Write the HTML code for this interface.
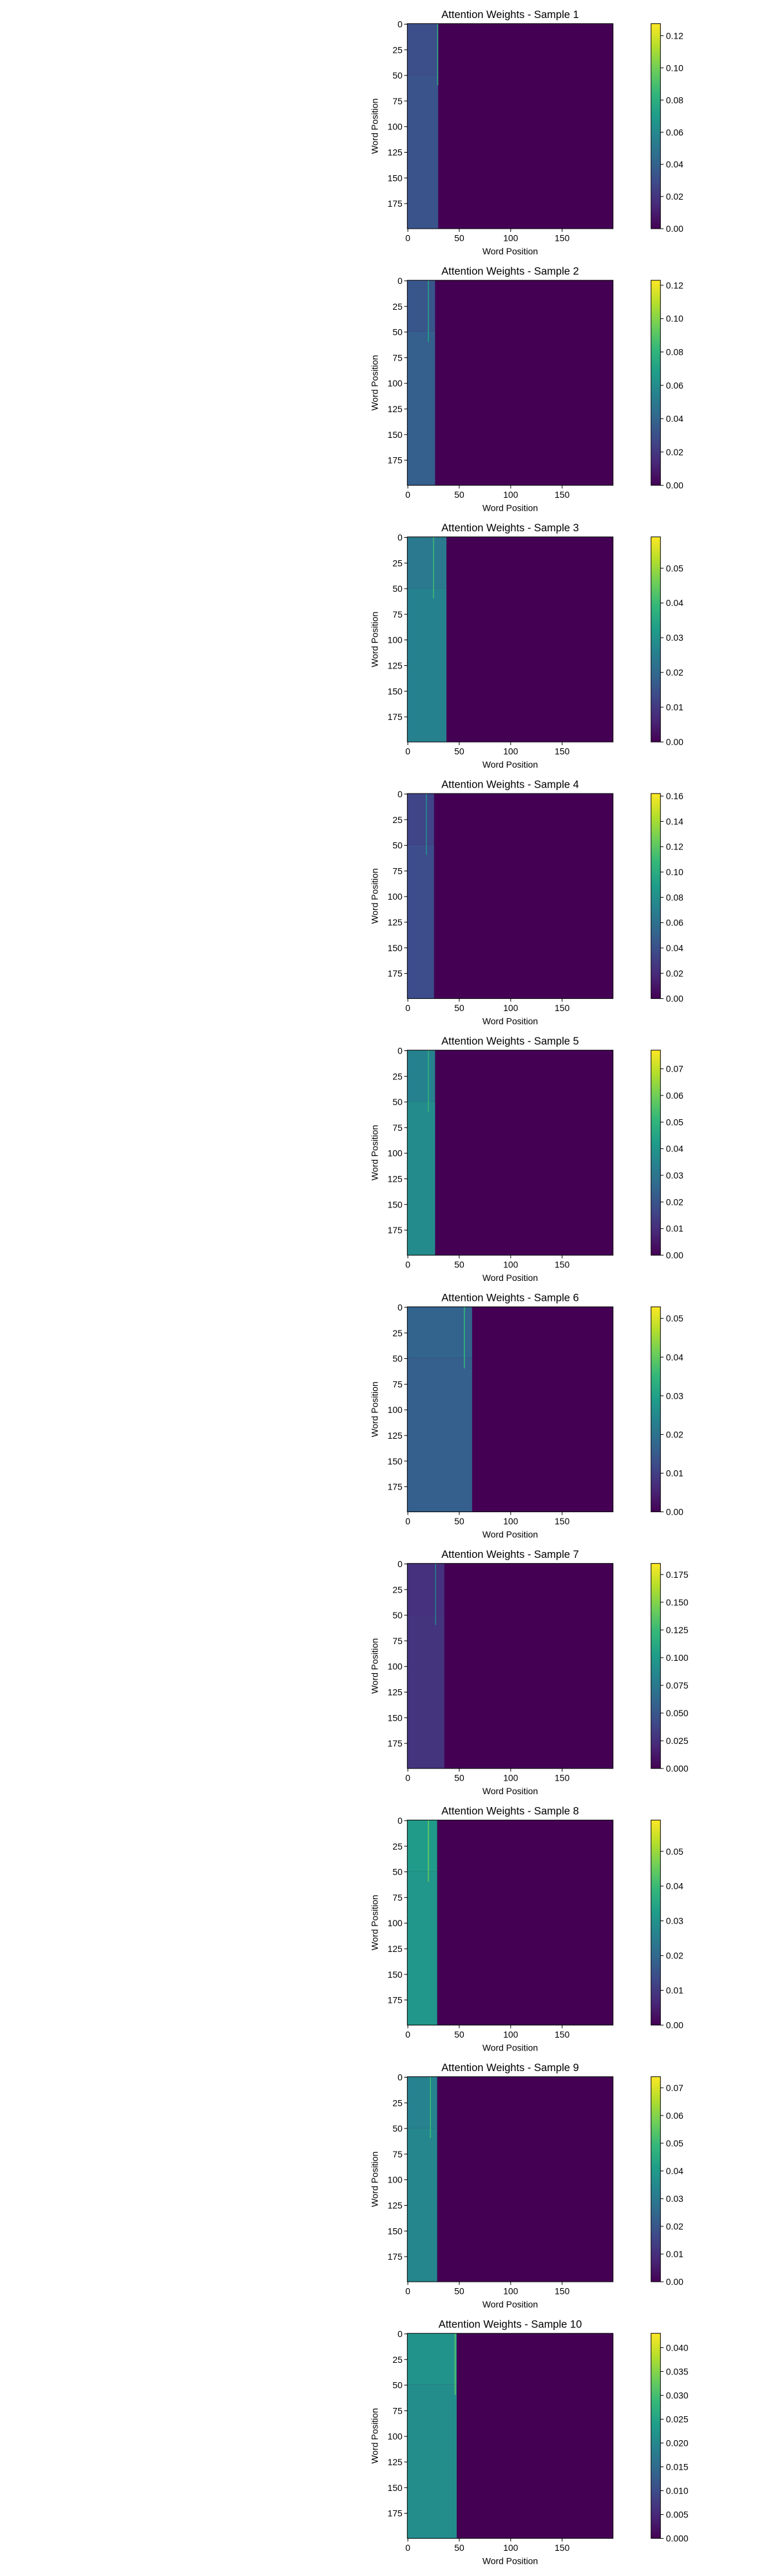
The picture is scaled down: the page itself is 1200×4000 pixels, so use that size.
<!DOCTYPE html>
<html><head><meta charset="utf-8">
<style>
html,body{margin:0;padding:0;background:#fff;}
svg{display:block;}
text{font-family:"Liberation Sans","DejaVu Sans",sans-serif;fill:#000;}
</style></head>
<body>
<svg id="fig" width="1200" height="4000" viewBox="0 0 1200 4000" xmlns="http://www.w3.org/2000/svg"></svg>
<script>
// ---- data ----
const sampleNames = ["Sample 1","Sample 2","Sample 3","Sample 4","Sample 5","Sample 6","Sample 7","Sample 8","Sample 9","Sample 10"];
const seqLens   = [30, 27, 38, 26, 27, 63, 36, 29, 29, 48];
const vmaxVals  = [0.1275, 0.123, 0.059, 0.162, 0.077, 0.053, 0.185, 0.059, 0.074, 0.043];
const baseVals  = [0.033, 0.037, 0.026, 0.038, 0.037, 0.016, 0.028, 0.031, 0.034, 0.021];
const topVals   = [0.031, 0.033, 0.024, 0.034, 0.034, 0.017, 0.026, 0.032, 0.033, 0.022];
const hotCols   = [29, 20, 25, 18, 20, 55, 27, 20, 22, 46];
const hotVals   = [0.080, 0.070, 0.040, 0.080, 0.050, 0.035, 0.080, 0.045, 0.050, 0.032];
const tickSteps = [0.02, 0.02, 0.01, 0.02, 0.01, 0.01, 0.025, 0.01, 0.01, 0.005];
const tickDecimals = [2,2,2,2,2,2,3,2,2,3];
const axisTicks = [0, 50, 100, 150];
const yAxisTicks = [0, 25, 50, 75, 100, 125, 150, 175];
const N = 200;

// ---- layout ----
const L = 632.3, W = 319.4, T0 = 36.7, H = 318.4, GAP = 398.5;
const CBX = 1010.7, CBW = 14.6;
const NS = "http://www.w3.org/2000/svg";
const svg = document.getElementById('fig');

const VIR = [[68,1,84],[72,40,120],[62,73,137],[49,104,142],[38,130,142],[31,158,137],[53,183,121],[110,206,88],[181,222,43],[253,231,37]];
function viridis(t){
  t=Math.max(0,Math.min(1,t));
  const p=t*(VIR.length-1), i=Math.min(VIR.length-2,Math.floor(p)), f=p-i;
  const c=VIR[i].map((v,k)=>Math.round(v+(VIR[i+1][k]-v)*f));
  return `rgb(${c[0]},${c[1]},${c[2]})`;
}
function mk(tag, attrs, parent){
  const e=document.createElementNS(NS,tag);
  for(const k in attrs) e.setAttribute(k,attrs[k]);
  (parent||svg).appendChild(e); return e;
}

sampleNames.forEach((name, s) => {
  const top = T0 + s*GAP;
  const g = mk('g', {});
  
  
  const xs = v => L + (v + 0.5) * W / N;
  const ys = v => top + (v + 0.5) * H / N;
  const xe = v => L + v * W / N;
  const ye = v => top + v * H / N;
  const col = v => viridis(v / vmaxVals[s]);

  const bg = mk('rect', {x:L, y:top, width:W, height:H, fill:viridis(0)}, g);
  
  
  const r1 = mk('rect', {x:xe(0), y:ye(0), width:xe(seqLens[s])-xe(0), height:ye(50)-ye(0), fill:col(topVals[s])}, g);
  
  
  const r2 = mk('rect', {x:xe(0), y:ye(50), width:xe(seqLens[s])-xe(0), height:ye(N)-ye(50), fill:col(baseVals[s])}, g);
  
  
  const hc = mk('rect', {x:xe(hotCols[s]), y:ye(0), width:xe(hotCols[s]+1)-xe(hotCols[s]), height:ye(60)-ye(0), fill:col(hotVals[s])}, g);
  
  
  const fr = mk('rect', {x:L, y:top, width:W, height:H, fill:'none', stroke:'#000', 'stroke-width':1}, g);
  
  

  const tt = mk('text', {x:L+W/2, y:top-8.5, 'text-anchor':'middle', 'font-size':16.5}, g);
  tt.textContent = 'Attention Weights - ' + name;
  
  

  axisTicks.forEach(v => {
    mk('line', {x1:xs(v), x2:xs(v), y1:top+H, y2:top+H+4.9, stroke:'#000', 'stroke-width':1}, g);
    const t = mk('text', {x:xs(v), y:top+H+19.5, 'text-anchor':'middle', 'font-size':13.9}, g);
    t.textContent = v;
    
    
  });
  yAxisTicks.forEach(v => {
    mk('line', {x1:L-4.9, x2:L, y1:ys(v), y2:ys(v), stroke:'#000', 'stroke-width':1}, g);
    const t = mk('text', {x:L-7.5, y:ys(v)+5, 'text-anchor':'end', 'font-size':13.9}, g);
    t.textContent = v;
    
    
  });
  const xl = mk('text', {x:L+W/2, y:top+H+40, 'text-anchor':'middle', 'font-size':13.9}, g);
  xl.textContent = 'Word Position';
  
  
  const cy = top+H/2;
  const yl = mk('text', {x:586.5, y:cy, 'text-anchor':'middle', 'font-size':13.9, transform:`rotate(-90 586.5 ${cy})`}, g);
  yl.textContent = 'Word Position';
  
  

  const gid = 'vir' + s;
  const defs = mk('defs', {}, g);
  const lg = mk('linearGradient', {id:gid, x1:0, y1:1, x2:0, y2:0}, defs);
  for(let i=0;i<VIR.length;i++) mk('stop', {offset:(i/(VIR.length-1)), 'stop-color':viridis(i/(VIR.length-1))}, lg);
  const cb = mk('rect', {x:CBX, y:top, width:CBW, height:H, fill:`url(#${gid})`, stroke:'#000', 'stroke-width':1}, g);
  
  
  const cs = v => top + H - v / vmaxVals[s] * H;
  for(let k=0; k*tickSteps[s] <= vmaxVals[s] + 1e-9; k++){
    const v = k*tickSteps[s];
    mk('line', {x1:CBX+CBW, x2:CBX+CBW+4.9, y1:cs(v), y2:cs(v), stroke:'#000', 'stroke-width':1}, g);
    const t = mk('text', {x:CBX+CBW+8.5, y:cs(v)+5, 'font-size':13.9}, g);
    t.textContent = v.toFixed(tickDecimals[s]);
    
    
  }
});
</script>
</body></html>
